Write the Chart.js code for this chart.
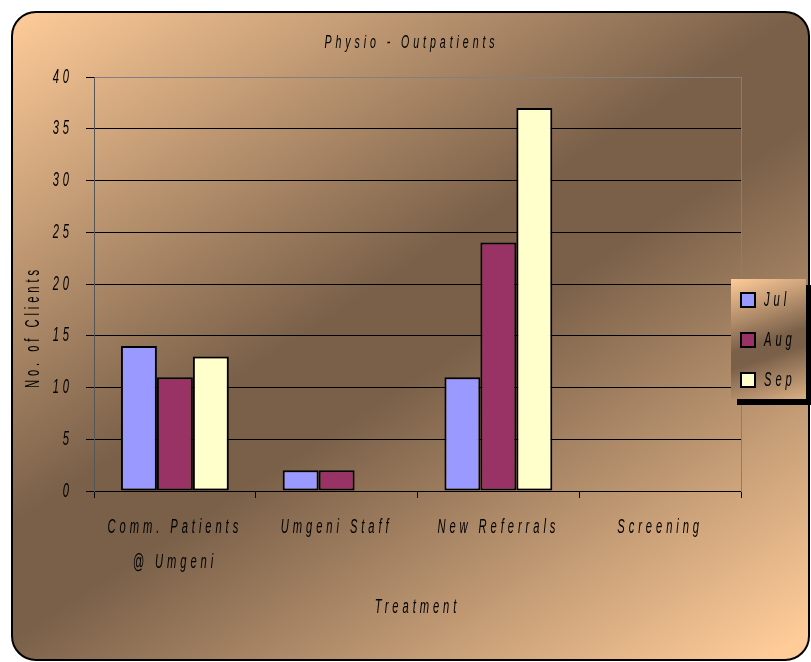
<!DOCTYPE html>
<html><head><meta charset="utf-8">
<script src="https://cdn.jsdelivr.net/npm/chart.js@4"></script>
<style>html,body{margin:0;padding:0;background:#fff;} #wrap{width:811px;height:662px;position:relative;}</style>
</head><body><div id="wrap"><canvas id="c"></canvas></div>
<script>
const categories = [['Comm. Patients', '@ Umgeni'], 'Umgeni Staff', 'New Referrals', 'Screening'];
const seriesNames = ['Jul', 'Aug', 'Sep'];
const julValues = [14, 2, 11, 0];
const augValues = [11, 2, 24, 0];
const sepValues = [13, 0, 37, 0];
const yTicks = [0, 5, 10, 15, 20, 25, 30, 35, 40];
const chartTitle = 'Physio - Outpatients';
const xTitle = 'Treatment';
const yTitle = 'No. of Clients';
const seriesColors = ['#9999FF', '#993366', '#FFFFCC'];

const FONT = "'Liberation Sans', Arial, sans-serif";
const LIGHT = '#FFCC99', DARK = '#7A6049';
const SPACING = '7px';
const SX = 0.56; // horizontal condensing of all text
Chart.defaults.font.family = FONT;

function condense(ctx) {
  const f = CanvasRenderingContext2D.prototype.fillText;
  const m = CanvasRenderingContext2D.prototype.measureText;
  ctx.fillText = function (text, x, y) {
    this.save();
    this.translate(x, y);
    this.scale(SX, 1);
    f.call(this, text, 0, 0);
    this.restore();
  };
  ctx.measureText = function (text) {
    const r = m.call(this, text);
    return {
      width: r.width * SX,
      actualBoundingBoxAscent: r.actualBoundingBoxAscent,
      actualBoundingBoxDescent: r.actualBoundingBoxDescent,
      actualBoundingBoxLeft: r.actualBoundingBoxLeft * SX,
      actualBoundingBoxRight: r.actualBoundingBoxRight * SX,
      fontBoundingBoxAscent: r.fontBoundingBoxAscent,
      fontBoundingBoxDescent: r.fontBoundingBoxDescent
    };
  };
}

function roundRect(ctx, x, y, w, h, r) {
  ctx.beginPath();
  ctx.moveTo(x + r, y);
  ctx.arcTo(x + w, y, x + w, y + h, r);
  ctx.arcTo(x + w, y + h, x, y + h, r);
  ctx.arcTo(x, y + h, x, y, r);
  ctx.arcTo(x, y, x + w, y, r);
  ctx.closePath();
}
function diagGradient(ctx, x, y, w, h) {
  const g = ctx.createLinearGradient(x, y, x + w * 0.652, y + h * 1.238);
  g.addColorStop(0, LIGHT);
  g.addColorStop(0.45, DARK);
  g.addColorStop(0.55, DARK);
  g.addColorStop(1, LIGHT);
  return g;
}

const decorPlugin = {
  id: 'decor',
  beforeUpdate(chart) { chart.ctx.letterSpacing = SPACING; },
  beforeDraw(chart) {
    const ctx = chart.ctx, W = chart.width, H = chart.height;
    ctx.save();
    ctx.fillStyle = '#fff';
    ctx.fillRect(0, 0, W, H);
    const x = 12, y = 12, w = W - 14, h = H - 14;
    roundRect(ctx, x, y, w, h, 24);
    ctx.fillStyle = diagGradient(ctx, x, y, w, h);
    ctx.fill();
    ctx.lineWidth = 2;
    ctx.strokeStyle = '#000';
    ctx.stroke();
    ctx.restore();
    ctx.letterSpacing = SPACING;
  },
  afterDraw(chart) {
    const ctx = chart.ctx, ca = chart.chartArea;
    // y axis title
    ctx.save();
    ctx.letterSpacing = SPACING;
    ctx.translate(33, (ca.top + ca.bottom) / 2 + 43);
    ctx.rotate(-Math.PI / 2);
    ctx.font = '20px ' + FONT;
    ctx.fillStyle = '#000';
    ctx.textAlign = 'center';
    ctx.textBaseline = 'middle';
    ctx.fillText(yTitle, 0, 0);
    ctx.restore();
    // legend
    const bx = ca.right - 10, by = ca.top + 202, bw = 75, bh = 120;
    ctx.save();
    ctx.letterSpacing = SPACING;
    ctx.fillStyle = '#000';
    ctx.fillRect(bx + 6, by + 6, bw, bh);
    ctx.fillStyle = diagGradient(ctx, bx, by, bw, bh);
    ctx.fillRect(bx, by, bw, bh);
    chart.data.datasets.forEach((ds, i) => {
      const cy = by + 21 + i * 40;
      ctx.fillStyle = ds.backgroundColor;
      ctx.fillRect(bx + 10, cy - 7, 14, 14);
      ctx.lineWidth = 2;
      ctx.strokeStyle = '#000';
      ctx.strokeRect(bx + 10, cy - 7, 14, 14);
      ctx.fillStyle = '#000';
      ctx.font = 'italic 20px ' + FONT;
      ctx.textAlign = 'left';
      ctx.textBaseline = 'middle';
      ctx.fillText(ds.label, bx + 33, cy);
    });
    ctx.restore();
  }
};

const canvas = document.getElementById('c');
const ctx2d = canvas.getContext('2d');
condense(ctx2d);

const seriesValues = [julValues, augValues, sepValues];
new Chart(ctx2d, {
  type: 'bar',
  data: {
    labels: categories,
    datasets: seriesNames.map((n, i) => ({
      label: n,
      data: seriesValues[i],
      backgroundColor: seriesColors[i],
      borderColor: '#000',
      borderWidth: 2,
      borderSkipped: false,
      categoryPercentage: 0.667,
      barPercentage: 1.0
    }))
  },
  options: {
    responsive: true,
    maintainAspectRatio: false,
    animation: false,
    layout: { padding: { left: 12, top: 12, right: 0, bottom: 0 } },
    plugins: {
      legend: { display: false },
      tooltip: { enabled: false },
      title: {
        display: true, text: chartTitle, color: '#000',
        font: { family: FONT, size: 19, style: 'italic', weight: 'normal' },
        padding: { top: 19.6, bottom: 22.6 }
      }
    },
    scales: {
      x: {
        grid: { display: true, drawOnChartArea: false, tickLength: 7, color: '#000', offset: true },
        border: { color: '#000', width: 1 },
        ticks: { color: '#000', padding: 11.5, maxRotation: 0, autoSkip: false,
          font: { family: FONT, size: 20, style: 'italic', lineHeight: 1.75 } },
        title: { display: true, text: xTitle, color: '#000',
          font: { family: FONT, size: 20, style: 'italic', weight: 'normal' },
          padding: { top: 0, bottom: 43 } },
        afterFit(a) { a.height = 171; }
      },
      y: {
        min: 0, max: 40,
        afterBuildTicks(a) { a.ticks = yTicks.map(v => ({ value: v })); },
        ticks: { color: '#000', padding: 13, font: { family: FONT, size: 20, style: 'italic' } },
        grid: { color: (c) => (c.tick && c.tick.value === 40 ? '#808080' : '#000'), tickLength: 8, tickColor: '#000', lineWidth: 1 },
        border: { color: '#555', width: 1 },
        afterFit(a) { a.width = 82; }
      },
      y2: {
        position: 'right', min: 0, max: 40, display: true,
        grid: { display: false },
        ticks: { display: false },
        border: { display: true, color: '#808080', width: 1 },
        afterFit(a) { a.width = 70; }
      }
    }
  },
  plugins: [decorPlugin]
});
</script>
</body></html>
